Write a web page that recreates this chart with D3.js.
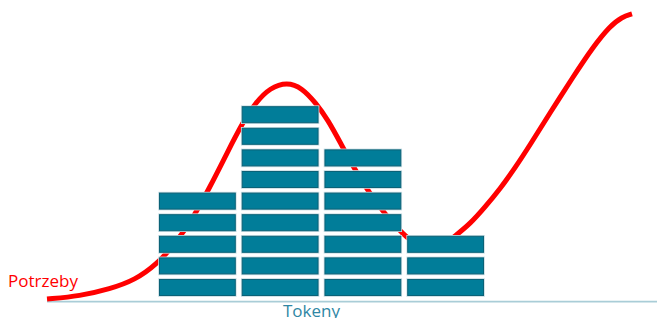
<!DOCTYPE html>
<html>
<head>
<meta charset="utf-8">
<script src="https://cdn.jsdelivr.net/npm/d3@7"></script>
<style>
html,body{margin:0;padding:0;background:#fff;overflow:hidden;}
svg{display:block;}
</style>
</head>
<body>
<svg id="chart" width="657" height="318"></svg>
<script>
// ---- data ----
const columns = ["A", "B", "C", "D"];
const tokenCounts = [5, 9, 7, 3];
const needX = [0, 5.64, 10.77, 15.04, 18.8, 21.88, 24.96, 27.86, 30.77, 33.5, 35.73, 38.12, 41.03, 43.59, 45.98, 48.03, 50.09, 52.65, 55.21, 57.78, 60.34, 62.39, 65.13, 67.52, 69.74, 72.31, 74.87, 77.44, 80, 82.56, 85.98, 89.91, 93.33, 96.24, 98.29, 100];
const needY = [0.07, 0.21, 0.54, 0.95, 1.69, 2.62, 3.82, 5.26, 6.83, 8.27, 9.19, 9.85, 10.12, 9.85, 9.14, 8.36, 7.34, 6.05, 4.94, 4.01, 3.22, 2.71, 2.4, 2.5, 2.99, 3.55, 4.33, 5.17, 6.14, 7.2, 8.69, 10.35, 11.74, 12.71, 13.13, 13.27];
const labelNeeds = "Potrzeby";
const labelTokens = "Tokeny";

// ---- scales ----
const svg = d3.select("#chart");
const x = d3.scaleLinear().domain([0, 100]).range([47, 632]);
const y = d3.scaleLinear().domain([0, 14]).range([300.6, 300.6 - 14 * 21.6]);
const band = d3.scaleBand().domain(columns).range([159, 484]).paddingInner(0.072).paddingOuter(0);
const unitH = y(0) - y(1);
const blockH = unitH - 4.6;

// axis baseline
svg.append("line")
  .attr("x1", x(0)).attr("x2", 657)
  .attr("y1", y(0) + 1).attr("y2", y(0) + 1)
  .attr("stroke", "#a9cdd7").attr("stroke-width", 1.6);

// need curve
const pts = needX.map((v, i) => [v, needY[i]]);
const line = d3.line().x(d => x(d[0])).y(d => y(d[1])).curve(d3.curveBasis);
svg.append("path")
  .attr("d", line(pts))
  .attr("fill", "none")
  .attr("stroke", "#ff0000")
  .attr("stroke-width", 5)
  .attr("stroke-linecap", "butt");

// token blocks
const blocks = [];
columns.forEach((c, ci) => {
  for (let k = 0; k < tokenCounts[ci]; k++) blocks.push({ c, k });
});
svg.append("g").selectAll("rect.halo").data(blocks).join("rect")
  .attr("x", d => band(d.c) - 0.8)
  .attr("y", d => y(d.k + 1) - 0.8)
  .attr("width", band.bandwidth() + 1.6)
  .attr("height", blockH + 1.6)
  .attr("fill", "#c9dde3");
svg.append("g").selectAll("rect.blk").data(blocks).join("rect")
  .attr("x", d => band(d.c) + 0.5)
  .attr("y", d => y(d.k + 1) + 0.5)
  .attr("width", band.bandwidth() - 1)
  .attr("height", blockH - 1)
  .attr("fill", "#017d99")
  .attr("stroke", "#0a6277")
  .attr("stroke-width", 1);

// labels
svg.append("text")
  .attr("x", 8).attr("y", 287)
  .attr("font-family", "'Open Sans', Lato, sans-serif")
  .attr("font-size", 17)
  .attr("fill", "#ff0000")
  .text(labelNeeds);
svg.append("text")
  .attr("x", 283).attr("y", 317)
  .attr("font-family", "'Open Sans', Lato, sans-serif")
  .attr("font-size", 17)
  .attr("fill", "#2f87a4")
  .text(labelTokens);
</script>
</body>
</html>
